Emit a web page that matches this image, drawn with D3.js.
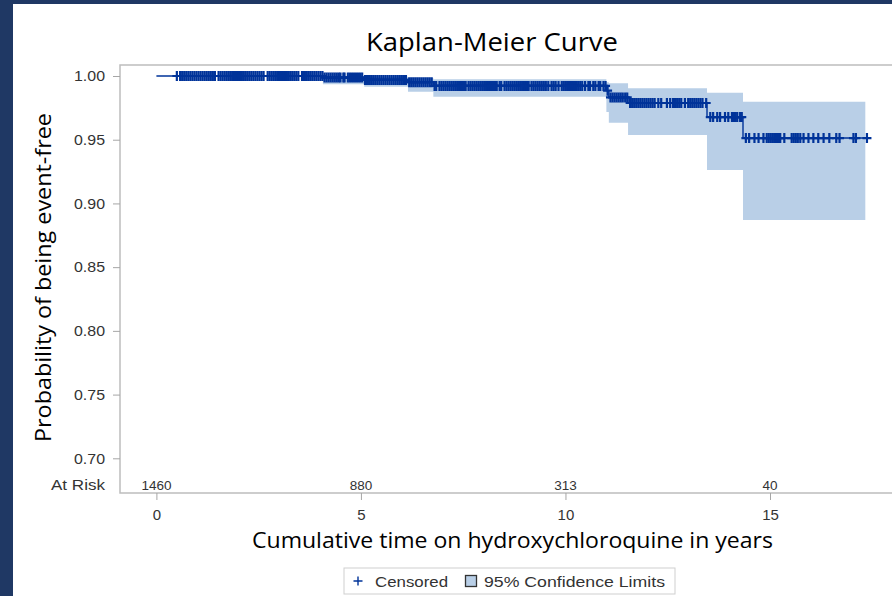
<!DOCTYPE html>
<html lang="en">
<head>
<meta charset="UTF-8">
<title>Kaplan-Meier Curve</title>
<script src="https://d3js.org/d3.v7.min.js"></script>
<style>
  body { margin: 0; background: #fff; overflow: hidden; }
  svg { display: block; font-family: "Liberation Sans", Arial, sans-serif; }
  .tick line { stroke: #a6a6a6; }
  .tick text { fill: #333; }
</style>
</head>
<body>
<div id="chart"></div>
<script>
// Kaplan-Meier step estimates (time in years)
const eventTimes = [0, 4.07, 5.08, 6.15, 6.77, 11.00, 11.06, 11.53, 13.46, 14.34];
const survival   = [1.0, 0.9988, 0.9969, 0.9951, 0.9922, 0.9885, 0.9832, 0.9788, 0.9678, 0.9513];
const lowerCL    = [1.0, 0.9935, 0.9916, 0.9877, 0.9838, 0.9717, 0.9633, 0.9537, 0.9262, 0.8870];
const upperCL    = [1.0, 1.0, 0.9995, 0.9985, 0.9974, 0.9950, 0.9943, 0.9903, 0.9869, 0.9798];
const bandEnd = 17.33;

// censored observations
const censorTimes = [
  0.50, 0.58, 0.63, 0.68, 0.73, 0.78, 0.83, 0.88, 0.93, 0.98, 1.03, 1.08, 1.13, 1.18, 1.23, 1.28, 1.33, 1.38, 1.43,
  1.52, 1.57, 1.62, 1.67, 1.72, 1.77, 1.82, 1.87, 1.92, 1.97, 2.02, 2.07, 2.12, 2.17, 2.22, 2.27, 2.32, 2.37, 2.42, 2.47, 2.52, 2.57, 2.62,
  2.72, 2.77, 2.82, 2.87, 2.92, 2.97, 3.02, 3.07, 3.12, 3.17, 3.22, 3.27, 3.32, 3.37, 3.42, 3.47,
  3.56, 3.61, 3.66, 3.71, 3.76, 3.81, 3.86, 3.91, 3.96, 4.01, 4.06, 4.11, 4.16, 4.21, 4.26, 4.31, 4.36, 4.41, 4.46, 4.50,
  4.57, 4.60,
  4.68, 4.73, 4.78, 4.83, 4.88, 4.93, 4.98, 5.03, 5.10, 5.15, 5.20, 5.25, 5.30, 5.35, 5.40, 5.45, 5.50, 5.55, 5.60, 5.65,
  5.70, 5.75, 5.80, 5.85, 5.90, 5.95, 6.00, 6.05, 6.10,
  6.18, 6.23, 6.28, 6.33, 6.38, 6.43, 6.48, 6.53, 6.58, 6.63, 6.68, 6.73,
  6.80, 6.84, 6.92, 6.97, 7.02, 7.07, 7.12, 7.17, 7.22, 7.27, 7.32, 7.37, 7.42, 7.47, 7.52, 7.56,
  7.63, 7.68, 7.73, 7.78, 7.83, 7.88, 7.93, 7.98, 8.03, 8.08, 8.13, 8.18, 8.23, 8.28, 8.32,
  8.39, 8.43,
  8.51, 8.56, 8.61, 8.66, 8.71, 8.76, 8.81, 8.86, 8.91, 8.96, 9.01, 9.06, 9.10,
  9.17, 9.22, 9.27, 9.32, 9.37, 9.42, 9.47, 9.52, 9.58,
  9.66, 9.71, 9.76, 9.83,
  9.91, 9.96, 10.01, 10.06, 10.11, 10.16, 10.21, 10.26, 10.31, 10.36, 10.41, 10.48,
  10.56, 10.60, 10.68, 10.73, 10.81, 10.85, 10.93, 10.98,
  11.03, 11.10, 11.15, 11.20, 11.25, 11.30, 11.35, 11.40, 11.46, 11.51,
  11.58, 11.63, 11.68, 11.73, 11.78, 11.83, 11.88, 11.93, 11.98, 12.03, 12.08, 12.13, 12.18,
  12.27, 12.34, 12.48, 12.56, 12.63, 12.68, 12.73, 12.78, 12.83, 12.92,
  13.00, 13.05, 13.10, 13.15, 13.20, 13.25, 13.30, 13.35, 13.44,
  13.54, 13.61, 13.71, 13.78, 13.90, 13.98, 14.07, 14.12, 14.16, 14.20, 14.27, 14.31,
  14.41, 14.49, 14.62, 14.72, 14.84, 14.92, 14.97, 15.02, 15.07, 15.12, 15.17, 15.22, 15.25, 15.35,
  15.53, 15.58, 15.63, 15.68, 15.74, 15.82, 15.94, 16.06, 16.18, 16.31, 16.45, 16.62, 16.70,
  17.04, 17.10, 17.37
];

// number at risk row
const atRiskTimes  = [0, 5, 10, 15];
const atRiskCounts = [1460, 880, 313, 40];

const xTicks = [0, 5, 10, 15];
const yTicks = [0.70, 0.75, 0.80, 0.85, 0.90, 0.95, 1.00];

const W = 892, H = 596;
const frame = {left: 120, top: 65, right: 898, bottom: 493};
const curveColor = "#003399";
const bandColor = "#b9cfe7";

const svg = d3.select("#chart").append("svg")
    .attr("width", W)
    .attr("height", H);

svg.append("rect").attr("width", W).attr("height", H).attr("fill", "#fff");

// slide border
svg.append("rect").attr("x", 0).attr("y", 0).attr("width", 13).attr("height", H).attr("fill", "#1f3864");
svg.append("rect").attr("x", 0).attr("y", 0).attr("width", W).attr("height", 4).attr("fill", "#1f3864");

// scales
const x = d3.scaleLinear().domain([0, 15]).range([156.4, 770]);
const y = d3.scaleLinear().domain([0.70, 1.00]).range([458.3, 76]);

// confidence band
const bandData = eventTimes.map((t, i) => ({t: t, lo: lowerCL[i], hi: upperCL[i]}));
bandData.push({t: bandEnd, lo: lowerCL[lowerCL.length - 1], hi: upperCL[upperCL.length - 1]});

svg.append("path")
    .datum(bandData)
    .attr("fill", bandColor)
    .attr("d", d3.area()
        .curve(d3.curveStepAfter)
        .x(d => x(d.t))
        .y0(d => y(d.lo))
        .y1(d => y(d.hi)));

// survival curve
const lastT = d3.max(censorTimes);
const curveData = eventTimes.map((t, i) => ({t: t, s: survival[i]}));
curveData.push({t: lastT, s: survival[survival.length - 1]});

svg.append("path")
    .datum(curveData)
    .attr("fill", "none")
    .attr("stroke", curveColor)
    .attr("stroke-width", 1.4)
    .attr("d", d3.line()
        .curve(d3.curveStepAfter)
        .x(d => x(d.t))
        .y(d => y(d.s)));

// censor marks
const survAt = t => survival[d3.bisectRight(eventTimes, t) - 1];
const plus = "M-4.5,0H4.5M0,-5V5";

svg.append("g")
    .selectAll("path")
    .data(censorTimes)
    .join("path")
    .attr("transform", d => `translate(${x(d)},${y(survAt(d))})`)
    .attr("d", plus)
    .attr("stroke", curveColor)
    .attr("stroke-width", 2.2)
    .attr("fill", "none");

// frame
svg.append("rect")
    .attr("x", frame.left)
    .attr("y", frame.top)
    .attr("width", frame.right - frame.left)
    .attr("height", frame.bottom - frame.top)
    .attr("fill", "none")
    .attr("stroke", "#bdbdbd")
    .attr("stroke-width", 1.5);

// axes
const yAxis = svg.append("g")
    .attr("transform", `translate(${frame.left},0)`)
    .call(d3.axisLeft(y).tickValues(yTicks).tickFormat(d3.format(".2f")).tickSize(7).tickPadding(8));
yAxis.select(".domain").remove();
yAxis.selectAll("text").attr("font-size", 15).attr("textLength", 31).attr("lengthAdjust", "spacingAndGlyphs");

const xAxis = svg.append("g")
    .attr("transform", `translate(0,${frame.bottom})`)
    .call(d3.axisBottom(x).tickValues(xTicks).tickSize(7).tickPadding(9));
xAxis.select(".domain").remove();
xAxis.selectAll("text").attr("font-size", 15);

// at risk row
svg.append("text")
    .attr("x", 105)
    .attr("y", 489.5)
    .attr("text-anchor", "end")
    .attr("font-size", 14.5)
    .attr("fill", "#333")
    .attr("textLength", 54)
    .attr("lengthAdjust", "spacingAndGlyphs")
    .text("At Risk");

svg.append("g")
    .selectAll("text")
    .data(atRiskTimes)
    .join("text")
    .attr("x", d => x(d))
    .attr("y", 489.5)
    .attr("text-anchor", "middle")
    .attr("font-size", 13.5)
    .attr("fill", "#333")
    .text((d, i) => atRiskCounts[i]);

// titles
svg.append("text")
    .attr("x", 366)
    .attr("y", 50.7)
    .attr("font-family", "'Open Sans', 'Noto Sans', sans-serif")
    .attr("font-size", 26)
    .attr("fill", "#000")
    .attr("textLength", 252)
    .attr("lengthAdjust", "spacingAndGlyphs")
    .text("Kaplan-Meier Curve");

svg.append("text")
    .attr("x", 252)
    .attr("y", 548)
    .attr("font-family", "'Open Sans', 'Noto Sans', sans-serif")
    .attr("font-size", 22)
    .attr("fill", "#000")
    .attr("textLength", 521)
    .attr("lengthAdjust", "spacingAndGlyphs")
    .text("Cumulative time on hydroxychloroquine in years");

svg.append("text")
    .attr("transform", "translate(51,442) rotate(-90)")
    .attr("font-family", "'Open Sans', 'Noto Sans', sans-serif")
    .attr("font-size", 22)
    .attr("fill", "#000")
    .attr("textLength", 329)
    .attr("lengthAdjust", "spacingAndGlyphs")
    .text("Probability of being event-free");

// legend
const legend = svg.append("g");
legend.append("rect")
    .attr("x", 344).attr("y", 568)
    .attr("width", 331).attr("height", 26)
    .attr("fill", "#fff")
    .attr("stroke", "#cfcfcf");
legend.append("path")
    .attr("transform", "translate(358,581)")
    .attr("d", "M-4.5,0H4.5M0,-4.5V4.5")
    .attr("stroke", curveColor)
    .attr("stroke-width", 1.4);
legend.append("text")
    .attr("x", 375).attr("y", 586.5)
    .attr("font-size", 15)
    .attr("fill", "#333")
    .attr("textLength", 73)
    .attr("lengthAdjust", "spacingAndGlyphs")
    .text("Censored");
legend.append("rect")
    .attr("x", 465.5).attr("y", 575.5)
    .attr("width", 11).attr("height", 11)
    .attr("fill", bandColor)
    .attr("stroke", "#333")
    .attr("stroke-width", 1.3);
legend.append("text")
    .attr("x", 484).attr("y", 586.5)
    .attr("font-size", 15)
    .attr("fill", "#333")
    .attr("textLength", 181)
    .attr("lengthAdjust", "spacingAndGlyphs")
    .text("95% Confidence Limits");
</script>
</body>
</html>
